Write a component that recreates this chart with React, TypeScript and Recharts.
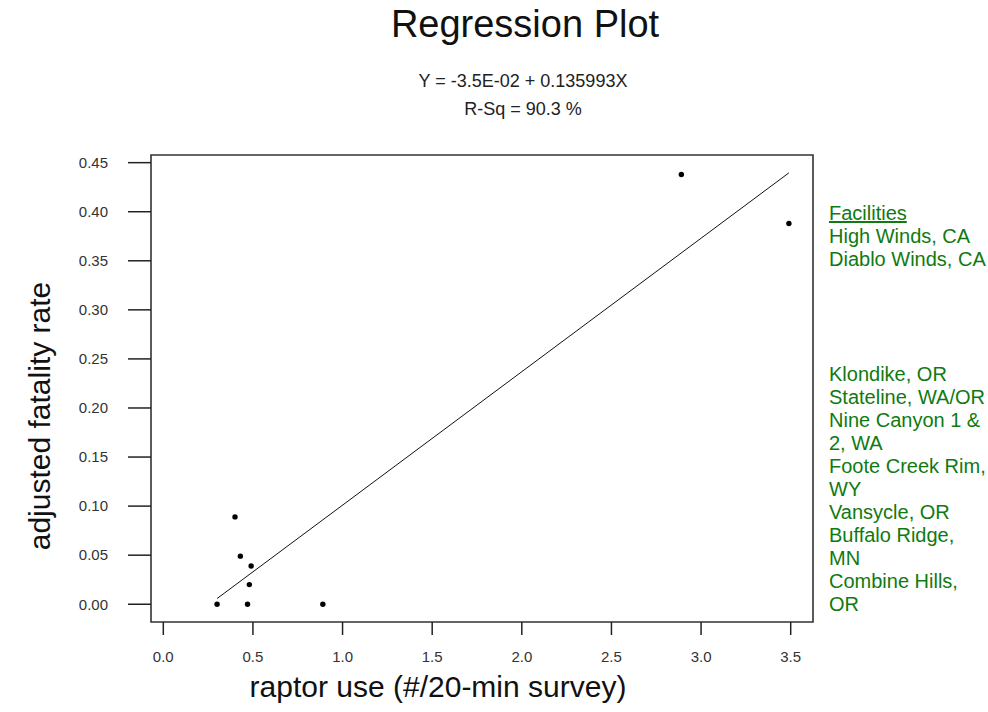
import React from 'react';
import { ScatterChart, Scatter, XAxis, YAxis, ReferenceArea, ReferenceLine } from 'recharts';

// ---- data ----
const raptorUse = [0.30, 0.40, 0.43, 0.47, 0.48, 0.49, 0.89, 2.89, 3.49];
const fatalityRate = [0.0, 0.089, 0.049, 0.0, 0.02, 0.039, 0.0, 0.438, 0.388];
const xTicks = [0, 0.5, 1.0, 1.5, 2.0, 2.5, 3.0, 3.5];
const yTicks = [0, 0.05, 0.1, 0.15, 0.2, 0.25, 0.3, 0.35, 0.4, 0.45];
const intercept = -0.035;
const slope = 0.135993;
const titleText = 'Regression Plot';
const equationText = 'Y = -3.5E-02 + 0.135993X';
const rsqText = 'R-Sq = 90.3 %';
const xLabel = 'raptor use (#/20-min survey)';
const yLabel = 'adjusted fatality rate';
const legendHeader = 'Facilities';
const facilitiesHigh = ['High Winds, CA', 'Diablo Winds, CA'];
const facilitiesLow = [
  'Klondike, OR', 'Stateline, WA/OR', 'Nine Canyon 1 &', '2, WA', 'Foote Creek Rim,', 'WY',
  'Vansycle, OR', 'Buffalo Ridge,', 'MN', 'Combine Hills,', 'OR',
];

const xDomain: [number, number] = [-0.0686, 3.6244];
const yDomain: [number, number] = [-0.0181, 0.4578];

const points = raptorUse.map((x, i) => ({ x, y: fatalityRate[i] }));
const xLo = Math.min(...raptorUse);
const xHi = Math.max(...raptorUse);
const fitSegment = [
  { x: xLo, y: intercept + slope * xLo },
  { x: xHi, y: intercept + slope * xHi },
];

const FONT = '"Liberation Sans", Arial, Helvetica, sans-serif';
const GREEN = '#107a10';

const Dot = (props: any) => <circle cx={props.cx} cy={props.cy} r={2.7} fill="#000" />;

export default function App() {
  const legendLines = [legendHeader, ...facilitiesHigh, '', '', '', '', ...facilitiesLow];
  return (
    <div style={{ position: 'absolute', left: 0, top: 0, width: 988, height: 712, background: '#fff', fontFamily: FONT }}>
      <ScatterChart width={988} height={712} margin={{ top: 155, right: 175, bottom: 50, left: 91 }}>
        <XAxis
          type="number"
          dataKey="x"
          domain={xDomain}
          allowDataOverflow
          ticks={xTicks}
          interval={0}
          tickFormatter={(v: number) => v.toFixed(1)}
          axisLine={false}
          tickLine={{ stroke: '#222', strokeWidth: 1.5 }}
          tickSize={13}
          tickMargin={16}
          height={40}
          tick={{ fontSize: 15, fill: '#333', fontFamily: FONT }}
        />
        <YAxis
          type="number"
          dataKey="y"
          domain={yDomain}
          allowDataOverflow
          ticks={yTicks}
          interval={0}
          tickFormatter={(v: number) => v.toFixed(2)}
          axisLine={false}
          tickLine={{ stroke: '#222', strokeWidth: 1.5 }}
          tickSize={23}
          tickMargin={20}
          width={60}
          tick={{ fontSize: 15, fill: '#333', fontFamily: FONT }}
        />
        <ReferenceArea
          x1={xDomain[0]}
          x2={xDomain[1]}
          y1={yDomain[0]}
          y2={yDomain[1]}
          fill="none"
          fillOpacity={0}
          stroke="#333"
          strokeWidth={1.6}
          ifOverflow="visible"
        />
        <ReferenceLine segment={fitSegment} stroke="#111" strokeWidth={1} ifOverflow="visible" />
        <Scatter data={points} shape={Dot} isAnimationActive={false} />
      </ScatterChart>
      <svg width={988} height={712} style={{ position: 'absolute', left: 0, top: 0, pointerEvents: 'none' }}>
        <text x={525} y={37} textAnchor="middle" fontSize={38} fill="#111" fontFamily={FONT}>{titleText}</text>
        <text x={523} y={87} textAnchor="middle" fontSize={18} fill="#222" fontFamily={FONT}>{equationText}</text>
        <text x={523} y={115} textAnchor="middle" fontSize={18} fill="#222" fontFamily={FONT}>{rsqText}</text>
        <text x={438} y={697} textAnchor="middle" fontSize={30} fill="#111" fontFamily={FONT}>{xLabel}</text>
        <text
          x={0}
          y={0}
          transform="translate(50,416) rotate(-90)"
          textAnchor="middle"
          fontSize={30}
          fill="#111"
          fontFamily={FONT}
        >
          {yLabel}
        </text>
        {legendLines.map((t, i) => (
          <text
            key={i}
            x={829}
            y={220 + i * 23}
            fontSize={20}
            fill={GREEN}
            fontFamily={FONT}
            textDecoration={i === 0 ? 'underline' : undefined}
          >
            {t}
          </text>
        ))}
      </svg>
    </div>
  );
}
